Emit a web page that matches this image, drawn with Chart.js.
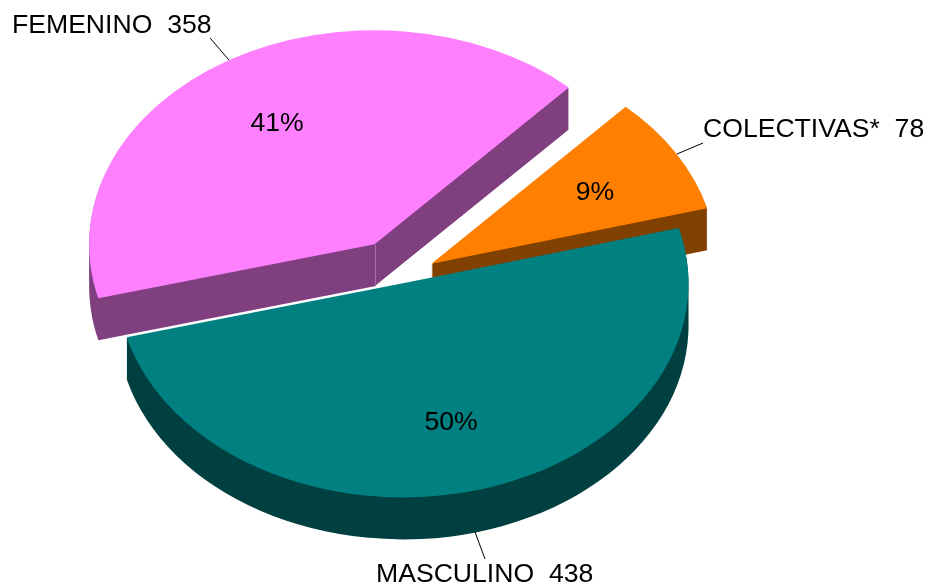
<!DOCTYPE html>
<html>
<head>
<meta charset="utf-8">
<style>
html,body{margin:0;padding:0;background:#fff;}
#wrap{width:933px;height:587px;position:relative;overflow:hidden;}
canvas{display:block;}
</style>
<script src="https://cdn.jsdelivr.net/npm/chart.js@4/dist/chart.umd.min.js"></script>
</head>
<body>
<div id="wrap"><canvas id="c" width="933" height="587"></canvas></div>
<script>
// Data
const categories = ['MASCULINO', 'FEMENINO', 'COLECTIVAS*'];
const values = [438, 358, 78];

// Styles
const topColors = ['#008080', '#FF80FF', '#FF8000'];
const sideColors = ['#004040', '#804080', '#804000'];
const explode = [8, 51.5, 35.5];       // distance each slice is pulled out
const drawOrder = [1, 2, 0];
const tilt = 0.75;
const depth = 42;
const pieCentreY = 277.5;
const FONT = '26.6px "Liberation Sans", Arial, sans-serif';

// Text layout
const labelPos = [[376, 582], [12, 33], [703, 137]];
const percentPos = [[451, 423], [277, 124], [595, 193]];
const leaders = [[[475, 532], [485, 559]], [[210, 38], [229, 60]], [[703, 143], [677, 154]]];

const total = values.reduce((a, b) => a + b, 0);

const pie3d = {
  id: 'pie3d',
  beforeDatasetsDraw(chart) {
    const ctx = chart.ctx;
    const arcs = chart.getDatasetMeta(0).data;

    const place = (arc, i) => {
      const mid = (arc.startAngle + arc.endAngle) / 2;
      ctx.translate(arc.x + Math.cos(mid) * explode[i],
                    pieCentreY + Math.sin(mid) * explode[i] * tilt);
      ctx.scale(1, tilt);
      ctx.translate(-arc.x, -arc.y);
    };

    drawOrder.forEach(i => {
      const arc = arcs[i];
      // extruded side wall: one path, so edges are antialiased only once
      ctx.save();
      ctx.fillStyle = sideColors[i];
      ctx.beginPath();
      for (let d = depth; d >= 1; d--) {
        ctx.save();
        ctx.translate(0, d);
        place(arc, i);
        ctx.moveTo(arc.x, arc.y);
        ctx.arc(arc.x, arc.y, arc.outerRadius, arc.startAngle, arc.endAngle);
        ctx.closePath();
        ctx.restore();
      }
      ctx.fill();
      ctx.restore();

      // seam between the two cut faces of the femenino slice
      if (i === 1) {
        const mid = (arc.startAngle + arc.endAngle) / 2;
        const ax = arc.x + Math.cos(mid) * explode[i];
        const ay = pieCentreY + Math.sin(mid) * explode[i] * tilt;
        ctx.save();
        ctx.strokeStyle = '#A86CA8';
        ctx.lineWidth = 1;
        ctx.beginPath();
        ctx.moveTo(Math.round(ax) + 0.5, ay);
        ctx.lineTo(Math.round(ax) + 0.5, ay + depth);
        ctx.stroke();
        ctx.restore();
      }

      // top face drawn by the library's own arc element
      ctx.save();
      place(arc, i);
      arc.draw(ctx);
      ctx.restore();
    });

    // Leader lines and text
    ctx.save();
    ctx.strokeStyle = '#000';
    ctx.lineWidth = 1;
    leaders.forEach(l => {
      ctx.beginPath();
      ctx.moveTo(l[0][0], l[0][1]);
      ctx.lineTo(l[1][0], l[1][1]);
      ctx.stroke();
    });
    ctx.fillStyle = '#000';
    ctx.font = FONT;
    ctx.textBaseline = 'alphabetic';
    ctx.textAlign = 'left';
    categories.forEach((c, i) => {
      ctx.fillText(c + '\u00A0\u00A0' + values[i], labelPos[i][0], labelPos[i][1]);
    });
    ctx.textAlign = 'center';
    ctx.textBaseline = 'middle';
    values.forEach((v, i) => {
      ctx.fillText(Math.round(v / total * 100) + '%', percentPos[i][0], percentPos[i][1]);
    });
    ctx.restore();
    return false;
  }
};

new Chart(document.getElementById('c'), {
  type: 'pie',
  data: {
    labels: categories,
    datasets: [{
      data: values,
      backgroundColor: topColors,
      borderWidth: 0
    }]
  },
  options: {
    responsive: false,
    animation: false,
    rotation: 75,
    layout: { padding: { left: 115.5, right: 246.5, top: 8, bottom: 8 } },
    plugins: { legend: { display: false }, tooltip: { enabled: false } }
  },
  plugins: [pie3d]
});
</script>
</body>
</html>
